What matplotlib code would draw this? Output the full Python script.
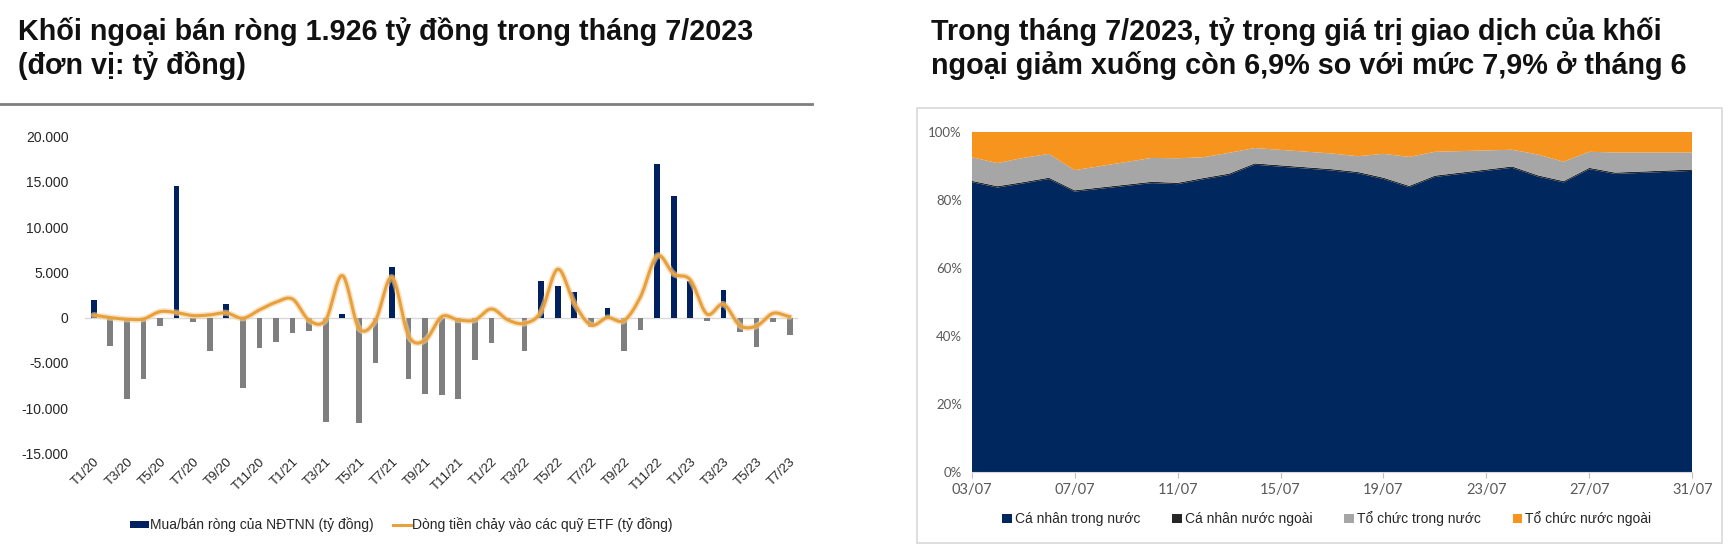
import numpy as np
import matplotlib
matplotlib.use('Agg')
import matplotlib.pyplot as plt
from matplotlib.patches import Rectangle
from matplotlib.lines import Line2D

plt.rcParams['font.family'] = ['Liberation Sans', 'DejaVu Sans']

# ---- left chart data: monthly net buy/sell of foreign investors and ETF flows (ty dong)
months = []
for yy in ['20', '21', '22', '23']:
    for m in range(1, 13):
        months.append('T%d/%s' % (m, yy))
months = months[:43]

net_buy = [2000, -3100, -8970, -6750, -920, 14600, -520, -3650, 1510, -7790, -3360, -2660,
           -1660, -1440, -11510, 370, -11620, -4980, 5610, -6750, -8410, -8560, -8970, -4720,
           -2770, -150, -3650, 4060, 3500, 2880, -1030, 1030, -3730, -1370, 16940, 13430,
           4100, -330, 3060, -1550, -3210, -440, -1926]

etf_flow = [260, 0, -180, -150, 660, 550, 220, 300, 520, -70, 850, 1700,
            2050, -300, -250, 4650, -1150, -300, 4450, -2000, -2500, 110, -260, -260,
            960, -260, -630, 660, 5350, 1590, -810, 0, -330, 2320, 6830, 4830,
            4170, 400, 1480, -880, -920, 480, 110]

# ---- right chart data: share of trading value in 7/2023 (%)
days = [3, 4, 5, 6, 7, 10, 11, 12, 13, 14, 17, 18, 19, 20, 21, 24, 25, 26, 27, 28, 31]
ca_nhan_trong_nuoc = [85.2, 83.6, 84.8, 86.1, 82.4, 84.9, 84.6, 86.0, 87.3, 90.3, 88.6,
                      87.8, 86.1, 83.7, 86.7, 89.4, 86.8, 85.1, 89.0, 87.6, 88.5]
ca_nhan_nuoc_ngoai = [0.4] * 21
to_chuc_trong_nuoc = [6.9, 6.8, 7.1, 7.0, 5.9, 7.0, 7.2, 6.1, 6.1, 4.5, 4.6,
                      4.6, 7.0, 8.5, 7.0, 4.9, 6.1, 5.7, 4.7, 5.9, 5.0]
to_chuc_nuoc_ngoai = [7.5, 9.2, 7.7, 6.5, 11.3, 7.7, 7.8, 7.5, 6.2, 4.8, 6.4,
                      7.2, 6.5, 7.4, 5.9, 5.3, 6.7, 8.8, 5.9, 6.1, 6.1]
right_labels = ['Cá nhân trong nước', 'Cá nhân nước ngoài', 'Tổ chức trong nước', 'Tổ chức nước ngoài']


def catmull(y, n=24):
    # smoothed line like excel
    y = np.asarray(y, dtype=float)
    xs, ys = [], []
    for i in range(len(y) - 1):
        p0 = y[i - 1] if i > 0 else y[i]
        p1, p2 = y[i], y[i + 1]
        p3 = y[i + 2] if i + 2 < len(y) else y[i + 1]
        t = np.linspace(0, 1, n, endpoint=False)
        yy = 0.5 * (2 * p1 + (-p0 + p2) * t + (2 * p0 - 5 * p1 + 4 * p2 - p3) * t ** 2
                    + (-p0 + 3 * p1 - 3 * p2 + p3) * t ** 3)
        xs.append(i + t)
        ys.append(yy)
    xs.append([len(y) - 1])
    ys.append([y[-1]])
    return np.concatenate(xs), np.concatenate(ys)


W, H = 1731, 552
fig = plt.figure(figsize=(W / 100, H / 100), dpi=100)

navy = '#002060'
bar_gray = '#7F7F7F'
orange_line = '#E8A03C'

# titles
fig.text(18 / W, 1 - 17 / H, 'Khối ngoại bán ròng 1.926 tỷ đồng trong tháng 7/2023\n(đơn vị: tỷ đồng)',
         fontsize=20.7, fontweight='bold', va='top', ha='left', linespacing=1.22, color='#111111')
fig.text(931 / W, 1 - 17 / H, 'Trong tháng 7/2023, tỷ trọng giá trị giao dịch của khối\n'
         'ngoại giảm xuống còn 6,9% so với mức 7,9% ở tháng 6',
         fontsize=20.7, fontweight='bold', va='top', ha='left', linespacing=1.22, color='#111111')
fig.add_artist(Line2D([0, 812 / W], [1 - 104 / H, 1 - 104 / H], color='#7F7F7F', lw=2,
                      transform=fig.transFigure))

# ---- left chart
ax1 = fig.add_axes([85.4 / W, 1 - 453.3 / H, (798 - 85.4) / W, (453.3 - 136.7) / H])
x = np.arange(len(net_buy))
cols = [navy if v >= 0 else bar_gray for v in net_buy]
ax1.bar(x, net_buy, width=0.34, color=cols, zorder=2)
ax1.axhline(0, color='#D9D9D9', lw=1, zorder=1)
sx, sy = catmull(etf_flow)
ax1.plot(sx, sy, color='#F3D3A0', lw=4.5, alpha=0.6, zorder=3, solid_capstyle='round')
ax1.plot(sx, sy, color=orange_line, lw=2.2, zorder=4)
ax1.set_xlim(-0.5, len(net_buy) - 0.5)
ax1.set_ylim(-15000, 20000)
ax1.set_yticks(range(-15000, 20001, 5000))
ax1.set_yticklabels([('{:,}'.format(v)).replace(',', '.') for v in range(-15000, 20001, 5000)],
                    fontsize=10, color='#262626')
ax1.set_xticks(x[::2])
ax1.set_xticklabels(months[::2], rotation=45, ha='right', va='top', rotation_mode='anchor',
                    fontsize=9.5, color='#262626')
ax1.tick_params(axis='both', length=0)
ax1.tick_params(axis='y', pad=12)
ax1.tick_params(axis='x', pad=2)
for s in ax1.spines.values():
    s.set_visible(False)

h1 = Rectangle((0, 0), 1, 1, facecolor=navy)
h2 = Line2D([], [], color=orange_line, lw=2.2)
fig.legend([h1, h2], ['Mua/bán ròng của NĐTNN (tỷ đồng)', 'Dòng tiền chảy vào các quỹ ETF (tỷ đồng)'],
           loc='center left', bbox_to_anchor=(118 / W, 1 - 525 / H), ncol=2, frameon=False,
           fontsize=10, handlelength=1.3, handleheight=0.5, handletextpad=0.1,
           columnspacing=1.4, labelcolor='#262626')

# ---- right chart
fig.add_artist(Rectangle((917 / W, 1 - 543 / H), (1722 - 917) / W, (543 - 108) / H,
                         transform=fig.transFigure, fill=False, edgecolor='#D9D9D9', lw=1.2))
ax2 = fig.add_axes([971.7 / W, 1 - 472.3 / H, (1692.3 - 971.7) / W, (472.3 - 131.7) / H])
ax2.stackplot(days, ca_nhan_trong_nuoc, ca_nhan_nuoc_ngoai, to_chuc_trong_nuoc, to_chuc_nuoc_ngoai,
              colors=['#00285E', '#262626', '#A6A6A6', '#F7941D'], labels=right_labels, lw=0)
ax2.set_xlim(3, 31)
ax2.set_ylim(0, 100)
ax2.set_yticks(range(0, 101, 20))
ax2.set_yticklabels(['%d%%' % v for v in range(0, 101, 20)], fontsize=9.5, color='#595959',
                    family=['Lato', 'DejaVu Sans'])
ax2.set_xticks(range(3, 32, 4))
ax2.set_xticklabels(['%02d/07' % d for d in range(3, 32, 4)], fontsize=10.5, color='#595959',
                    family=['Lato', 'DejaVu Sans'])
ax2.tick_params(axis='y', length=0, pad=7)
ax2.tick_params(axis='x', length=4, color='#BFBFBF', pad=4)
for s in ['top', 'right', 'left']:
    ax2.spines[s].set_visible(False)
ax2.spines['bottom'].set_color('#D9D9D9')

fig.legend(*ax2.get_legend_handles_labels(), loc='center left', bbox_to_anchor=(990 / W, 1 - 519 / H),
           ncol=4, frameon=False, fontsize=10, handlelength=0.7, handleheight=0.7, handletextpad=0.2,
           columnspacing=2.3, labelcolor='#262626')

fig.savefig('out.png', dpi=100)
